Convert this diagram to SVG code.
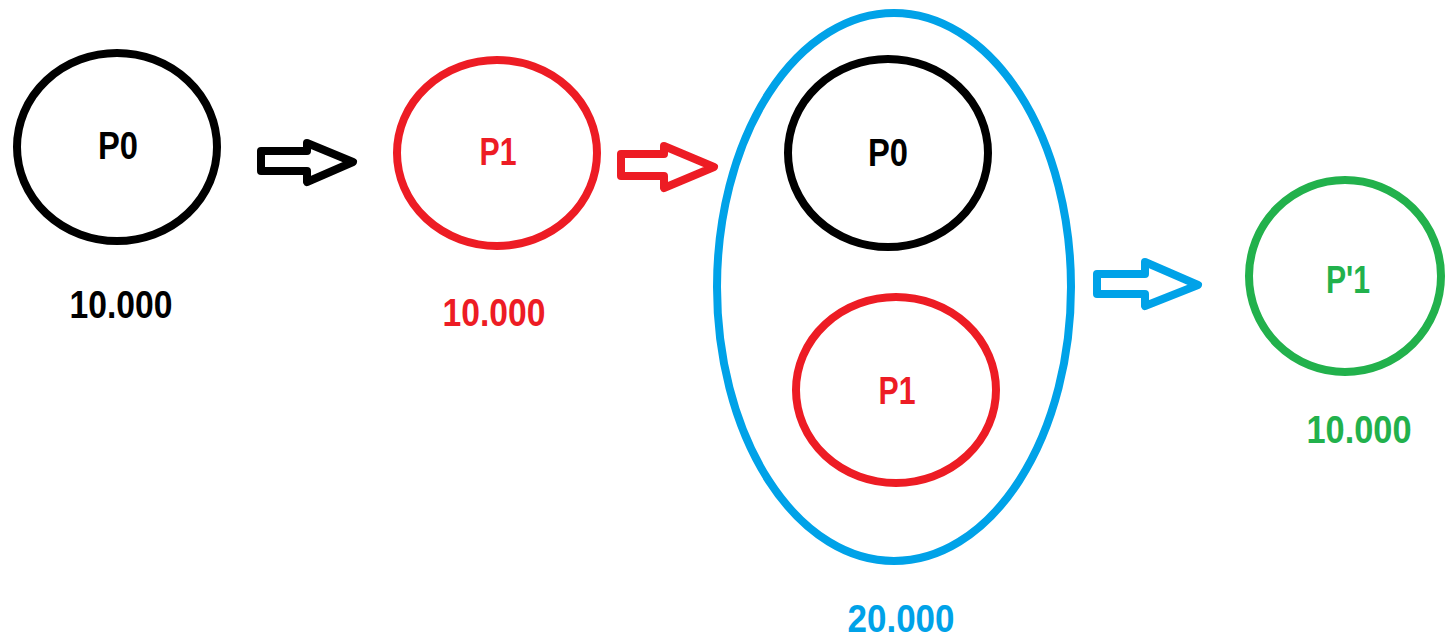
<svg xmlns="http://www.w3.org/2000/svg" width="1445" height="640" viewBox="0 0 1445 640">
<style>
.node{fill:none;stroke-width:8}
.blk{stroke:#000000}
.red{stroke:#ED1C24}
.blu{stroke:#00A2E8}
.grn{stroke:#22B14C}
.lbl{font-family:"Liberation Sans",Arial,sans-serif;font-weight:bold;font-size:38px;text-anchor:middle}
.arrow{fill:#ffffff;stroke-width:8;stroke-linejoin:round}
</style>
<rect width="1445" height="640" fill="#ffffff"/>
<g id="connectors">
<path class="arrow blk" d="M261,151 H307 V143 L353,162 L307,182 V171 H261 Z"/>
<path class="arrow red" d="M621,154 H664 V146 L714,167 L664,188 V176 H621 Z"/>
<path class="arrow blu" d="M1097,274 H1145 V262 L1198,285 L1145,306 V294 H1097 Z"/>
</g>
<g id="p0">
<ellipse class="node blk" cx="117" cy="147" rx="100" ry="94"/>
<text class="lbl" x="118" y="159" fill="#000000" textLength="40" lengthAdjust="spacingAndGlyphs">P0</text>
<text class="lbl" x="121" y="318" fill="#000000" textLength="103" lengthAdjust="spacingAndGlyphs">10.000</text>
</g>
<g id="p1">
<ellipse class="node red" cx="497" cy="153" rx="100" ry="93"/>
<text class="lbl" x="498" y="165" fill="#ED1C24" textLength="37" lengthAdjust="spacingAndGlyphs">P1</text>
<text class="lbl" x="494" y="326" fill="#ED1C24" textLength="103" lengthAdjust="spacingAndGlyphs">10.000</text>
</g>
<g id="group">
<ellipse class="node blu" cx="894" cy="287" rx="177" ry="274"/>
<text class="lbl" x="901" y="632" fill="#00A2E8" textLength="107" lengthAdjust="spacingAndGlyphs">20.000</text>
</g>
<g id="group-p0">
<ellipse class="node blk" cx="888" cy="153" rx="100" ry="94"/>
<text class="lbl" x="888" y="166" fill="#000000" textLength="40" lengthAdjust="spacingAndGlyphs">P0</text>
</g>
<g id="group-p1">
<ellipse class="node red" cx="896" cy="390" rx="100" ry="93"/>
<text class="lbl" x="897" y="404" fill="#ED1C24" textLength="37" lengthAdjust="spacingAndGlyphs">P1</text>
</g>
<g id="p1prime">
<ellipse class="node grn" cx="1345" cy="276" rx="96" ry="96"/>
<text class="lbl" x="1348" y="293" fill="#22B14C" textLength="44" lengthAdjust="spacingAndGlyphs">P'1</text>
<text class="lbl" x="1359" y="443" fill="#22B14C" textLength="105" lengthAdjust="spacingAndGlyphs">10.000</text>
</g>
</svg>
